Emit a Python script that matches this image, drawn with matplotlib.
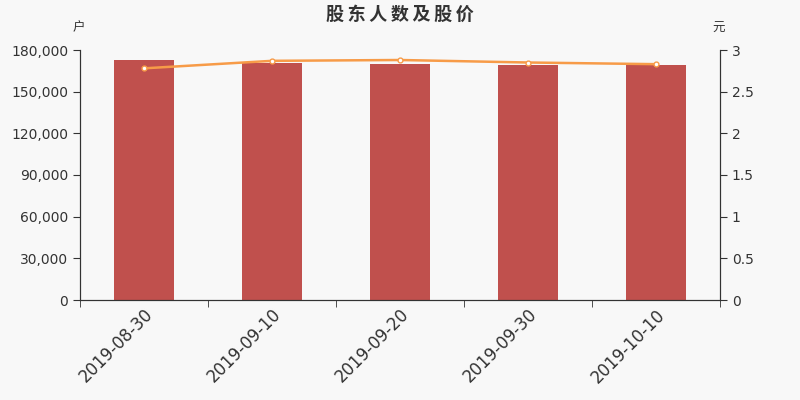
import matplotlib
matplotlib.use("Agg")
import matplotlib.pyplot as plt
from matplotlib.ticker import FuncFormatter

plt.rcParams['font.family'] = ['DejaVu Sans', 'Noto Sans CJK SC']

dates = ["2019-08-30", "2019-09-10", "2019-09-20", "2019-09-30", "2019-10-10"]
holders = [172800, 170900, 170100, 169200, 169000]
price = [2.78, 2.87, 2.88, 2.85, 2.83]

bg = "#f8f8f8"
fig = plt.figure(figsize=(8, 4), dpi=100, facecolor=bg)
ax = fig.add_axes([0.1, 0.25, 0.8, 0.625], facecolor=bg)
ax2 = ax.twinx()

x = list(range(len(dates)))
ax.bar(x, holders, width=0.47, color="#c0504d", zorder=2)
ax2.plot(x, price, color="#f79b48", lw=1.8, marker="o", ms=3.5,
         mfc="white", mec="#f79b48", mew=1, zorder=3)

ax.set_xlim(-0.5, len(dates) - 0.5)
ax.set_ylim(0, 180000)
ax.set_yticks(range(0, 180001, 30000))
ax.yaxis.set_major_formatter(FuncFormatter(lambda v, p: f"{int(v):,}"))
ax2.set_ylim(0, 3)
ax2.set_yticks([0, 0.5, 1, 1.5, 2, 2.5, 3])
ax2.yaxis.set_major_formatter(FuncFormatter(lambda v, p: f"{v:g}"))

ax.set_xticks(x)
ax.set_xticklabels(dates, rotation=45, ha="right", rotation_mode="anchor",
                   fontsize=12, color="#333333")
ax.set_xticks([i - 0.5 for i in range(len(dates) + 1)], minor=True)
ax.tick_params(axis="x", which="major", length=0, pad=4)
ax.tick_params(axis="x", which="minor", length=5, color="#333333")

for a in (ax, ax2):
    a.spines["top"].set_visible(False)
    for s in ("left", "right", "bottom"):
        a.spines[s].set_color("#333333")
    a.tick_params(axis="y", length=5, color="#333333", labelcolor="#333333",
                  labelsize=10)

fig.text(0.5, 0.965, "股\u2009东\u2009人\u2009数\u2009及\u2009股\u2009价", ha="center",
         va="center", fontsize=13, fontweight="bold", color="#333333",
         family=['Noto Sans CJK SC', 'DejaVu Sans'])
fig.text(0.098, 0.93, "户", ha="center", va="center", fontsize=9,
         color="#333333", family=['Noto Sans CJK SC'])
fig.text(0.898, 0.93, "元", ha="center", va="center", fontsize=9,
         color="#333333", family=['Noto Sans CJK SC'])

fig.savefig("out.png", dpi=100, facecolor=bg)
